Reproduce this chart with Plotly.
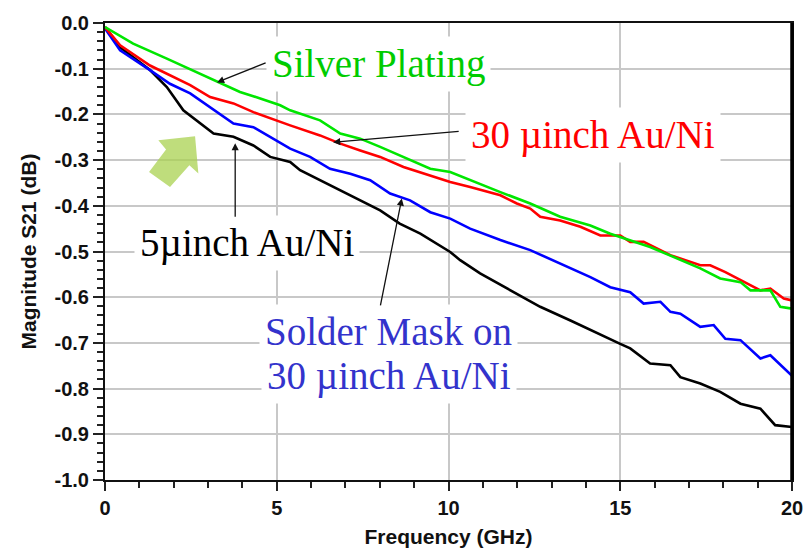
import plotly.graph_objects as go

# Measured insertion loss |S21| (dB) versus frequency (GHz) for four surface finishes
freq_silver = [0, 0.82, 1.80, 2.77, 3.25, 3.93, 4.52, 5.10, 5.39, 6.26, 6.85, 7.43, 8.01,
               8.69, 9.47, 10.05, 10.63, 11.51, 12.38, 13.25, 14.13, 14.71, 15.87, 16.75,
               17.33, 17.91, 18.50, 18.79, 19.37, 19.66, 20.0]
s21_silver = [-0.009, -0.045, -0.078, -0.111, -0.129, -0.151, -0.165, -0.180, -0.191,
              -0.213, -0.242, -0.253, -0.271, -0.293, -0.319, -0.326, -0.344, -0.370,
              -0.395, -0.424, -0.443, -0.461, -0.490, -0.519, -0.537, -0.559, -0.567,
              -0.585, -0.585, -0.621, -0.625]

freq_au30 = [0, 0.44, 1.31, 1.80, 2.48, 3.06, 3.74, 4.32, 4.81, 5.39, 6.26, 6.85, 7.43,
             8.01, 8.69, 9.47, 10.05, 10.63, 11.51, 11.99, 12.38, 12.67, 13.25, 13.84,
             14.42, 15.0, 15.29, 15.68, 16.46, 17.33, 17.62, 18.06, 18.50, 19.08, 19.37,
             19.76, 20.0]
s21_au30 = [-0.009, -0.049, -0.093, -0.111, -0.136, -0.162, -0.176, -0.195, -0.209,
            -0.224, -0.246, -0.264, -0.279, -0.293, -0.315, -0.333, -0.348, -0.359,
            -0.377, -0.395, -0.406, -0.424, -0.432, -0.446, -0.465, -0.465, -0.479,
            -0.479, -0.508, -0.530, -0.530, -0.545, -0.563, -0.585, -0.581, -0.603, -0.607]

freq_mask = [0, 0.44, 1.31, 1.89, 2.48, 3.06, 3.74, 4.32, 4.90, 5.39, 5.97, 6.55, 7.14,
             7.72, 8.30, 8.88, 9.47, 10.05, 10.63, 11.51, 12.38, 13.25, 14.13, 14.71,
             15.29, 15.68, 16.17, 16.46, 16.75, 17.33, 17.72, 18.06, 18.50, 19.08, 19.37,
             20.0]
s21_mask = [-0.012, -0.060, -0.103, -0.133, -0.154, -0.184, -0.220, -0.228, -0.253,
            -0.275, -0.293, -0.319, -0.330, -0.344, -0.373, -0.388, -0.414, -0.428,
            -0.450, -0.475, -0.497, -0.526, -0.556, -0.578, -0.589, -0.614, -0.610,
            -0.632, -0.636, -0.665, -0.661, -0.691, -0.694, -0.734, -0.727, -0.772]

freq_au5 = [0, 0.44, 1.31, 1.80, 2.28, 2.77, 3.16, 3.74, 4.32, 4.81, 5.39, 5.68, 6.26,
            6.85, 7.43, 8.01, 8.58, 9.18, 10.05, 10.34, 10.92, 11.80, 12.67, 13.55, 14.13,
            15.0, 15.29, 15.87, 16.46, 16.75, 17.33, 17.91, 18.50, 19.08, 19.51, 20.0]
s21_au5 = [-0.009, -0.053, -0.103, -0.140, -0.191, -0.220, -0.242, -0.249, -0.268,
           -0.293, -0.304, -0.322, -0.344, -0.366, -0.388, -0.410, -0.439, -0.461,
           -0.501, -0.519, -0.548, -0.585, -0.621, -0.651, -0.672, -0.702, -0.712,
           -0.745, -0.749, -0.775, -0.789, -0.807, -0.833, -0.844, -0.880, -0.884]

y_ticks = [0.0, -0.1, -0.2, -0.3, -0.4, -0.5, -0.6, -0.7, -0.8, -0.9, -1.0]
y_tick_text = ["0.0", "-0.1", "-0.2", "-0.3", "-0.4", "-0.5", "-0.6", "-0.7", "-0.8",
               "-0.9", "-1.0"]
x_ticks = [0, 5, 10, 15, 20]
x_tick_text = ["0", "5", "10", "15", "20"]

fig = go.Figure()
for fx, fy, col in [(freq_au5, s21_au5, "#000000"),
                    (freq_mask, s21_mask, "#0000ff"),
                    (freq_au30, s21_au30, "#ff0000"),
                    (freq_silver, s21_silver, "#00e600")]:
    fig.add_trace(go.Scatter(x=fx, y=fy, mode="lines",
                             line=dict(color=col, width=2.6), showlegend=False,
                             hoverinfo="skip"))

serif = "Liberation Serif, Times New Roman, serif"
label_size = 39

labels = [
    ("Silver Plating", 7.97, -0.090, "#00cc00"),
    ("30 \u00b5inch Au/Ni", 14.2, -0.244, "#ff0000"),
    ("5\u00b5inch Au/Ni", 4.12, -0.482, "#000000"),
    ("Solder Mask on", 8.26, -0.676, "#3333cc"),
    ("30 \u00b5inch Au/Ni", 8.26, -0.773, "#3333cc"),
]
for txt, lx, ly, col in labels:
    fig.add_annotation(x=lx, y=ly, text=txt, showarrow=False,
                       font=dict(family=serif, size=label_size, color=col),
                       bgcolor="white", borderpad=5)

# Pointer arrows: (tail x, tail y, head x, head y)
pointers = [
    (4.72, -0.086, 3.26, -0.130),
    (10.34, -0.237, 6.64, -0.261),
    (3.79, -0.427, 3.79, -0.263),
    (8.01, -0.621, 8.64, -0.384),
]
for tx, ty, hx, hy in pointers:
    fig.add_annotation(x=hx, y=hy, ax=tx, ay=ty, xref="x", yref="y",
                       axref="x", ayref="y", text="", showarrow=True,
                       arrowhead=2, arrowsize=1.1, arrowwidth=1.3,
                       arrowcolor="#111111")

# Highlight block arrow pointing up-right
block_arrow = [(1.553, -0.2567), (2.622, -0.2479), (2.718, -0.3295), (2.456, -0.3114),
               (1.893, -0.3589), (1.282, -0.3260), (1.777, -0.2770)]
path = "M " + " L ".join(f"{px},{py}" for px, py in block_arrow) + " Z"
fig.add_shape(type="path", path=path, xref="x", yref="y",
              fillcolor="rgba(170,210,80,0.75)", line=dict(width=0), layer="above")

# Heavier right-hand frame edge
fig.add_shape(type="line", xref="x domain", yref="y domain", x0=1, x1=1, y0=0, y1=1,
              line=dict(color="black", width=3.5))

tick_font = dict(family="Liberation Sans, Arial, sans-serif", size=20,
                 color="#111111", weight="bold")
title_font = dict(family="Liberation Sans, Arial, sans-serif", size=21,
                  color="#111111", weight="bold")

fig.update_xaxes(range=[0, 20], tickvals=x_ticks, ticktext=x_tick_text,
                 ticks="outside", ticklen=9, tickwidth=2, tickcolor="#222222",
                 minor=dict(dtick=1, tick0=0, ticks="outside", ticklen=6,
                            tickwidth=2, tickcolor="#222222", showgrid=False),
                 showgrid=True, gridcolor="#c8c8c8", gridwidth=1.5,
                 showline=True, linecolor="#111111", linewidth=2, mirror=True,
                 zeroline=False, tickfont=tick_font, automargin=False,
                 title=dict(text="Frequency (GHz)", font=title_font, standoff=12))
fig.update_yaxes(range=[-1.0, 0.0], tickvals=y_ticks, ticktext=y_tick_text,
                 ticks="outside", ticklen=10, tickwidth=2, tickcolor="#222222",
                 minor=dict(dtick=0.02, tick0=0, ticks="outside", ticklen=6,
                            tickwidth=1.5, tickcolor="#222222", showgrid=False),
                 showgrid=True, gridcolor="#c8c8c8", gridwidth=1.5,
                 showline=True, linecolor="#111111", linewidth=2, mirror=True,
                 zeroline=False, tickfont=tick_font, automargin=False,
                 title=dict(text="Magnitude S21 (dB)", font=title_font, standoff=12))

fig.update_layout(width=809, height=548,
                  margin=dict(l=105, r=17, t=23, b=68),
                  paper_bgcolor="white", plot_bgcolor="white")

fig.write_html("out.html")
